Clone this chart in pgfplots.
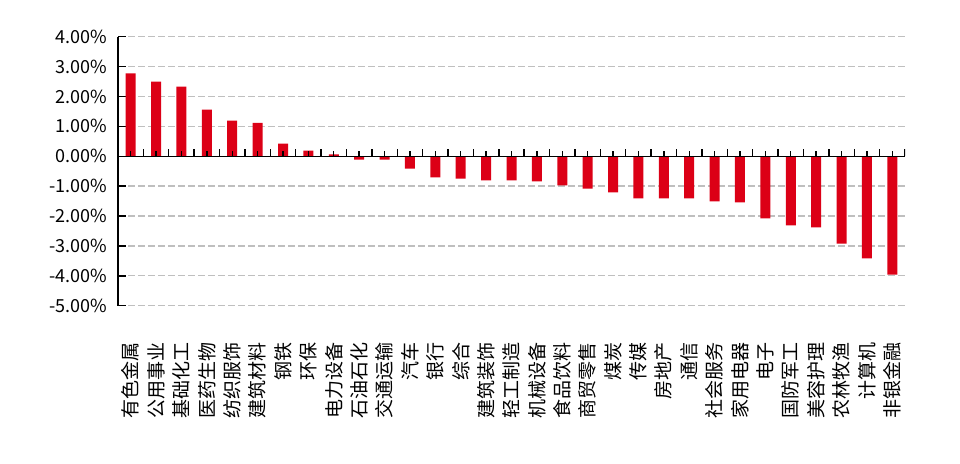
\documentclass[border=0pt]{standalone}
\usepackage{pgfplots}
\pgfplotsset{compat=1.18}
\usepackage{fontspec}
\setmainfont{Noto Sans CJK SC}
\definecolor{barred}{RGB}{220,0,22}
\definecolor{gridgray}{RGB}{191,191,191}
\begin{document}
\begin{tikzpicture}
\useasboundingbox (0,0) rectangle (480pt,232pt);
\begin{axis}[
  at={(59pt,79.15pt)}, anchor=south west,
  scale only axis, width=393.5pt, height=134.5pt,
  xmin=-0.5, xmax=30.5, ymin=-5, ymax=4,
  ybar, bar width=5pt,
  axis x line=bottom, axis y line=left,
  axis line style={-},
  x axis line style={draw=none},
  y axis line style={line width=0.7pt},
  xtick={0,...,30},
  xticklabels={有色金属,公用事业,基础化工,医药生物,纺织服饰,建筑材料,钢铁,环保,电力设备,石油石化,交通运输,汽车,银行,综合,建筑装饰,轻工制造,机械设备,食品饮料,商贸零售,煤炭,传媒,房地产,通信,社会服务,家用电器,电子,国防军工,美容护理,农林牧渔,计算机,非银金融},
  x tick style={draw=none},
  xticklabel style={yshift=-15pt, rotate=90, anchor=east, font=\fontsize{9.5pt}{10pt}\selectfont},
  ytick={-5,-4,...,4},
  y tick style={line width=0.7pt, black},
  tick align=inside, major tick length=4pt,
  yticklabel={\pgfmathprintnumber[fixed,fixed zerofill,precision=2]{\tick}\%},
  /pgf/number format/assume math mode=true,
  yticklabel style={font=\fontsize{9pt}{10pt}\selectfont, xshift=-2pt},
  ymajorgrids,
  grid style={gridgray, line width=0.65pt, dash pattern=on 3.3pt off 1.7pt},
]
\addplot[fill=barred, draw=none] coordinates {
(0,2.77) (1,2.50) (2,2.33) (3,1.56) (4,1.19) (5,1.12) (6,0.42) (7,0.19) (8,0.06)
(9,-0.11) (10,-0.11) (11,-0.41) (12,-0.71) (13,-0.75) (14,-0.81) (15,-0.81)
(16,-0.84) (17,-0.97) (18,-1.08) (19,-1.21) (20,-1.41) (21,-1.41) (22,-1.41)
(23,-1.51) (24,-1.54) (25,-2.08) (26,-2.31) (27,-2.38) (28,-2.92) (29,-3.42) (30,-3.96)
};
\draw[black, line width=0.7pt] (axis cs:-0.5,0) -- (axis cs:30.5,0);
\pgfplotsinvokeforeach{0,...,30}{\draw[black, line width=0.7pt] (axis cs:#1,0) -- ++(0pt,2.5pt);}
\pgfplotsinvokeforeach{0.5,1.5,...,30.5}{\draw[black, line width=0.7pt] (axis cs:#1,0) -- ++(0pt,3.6pt);}
\end{axis}
\end{tikzpicture}
\end{document}
